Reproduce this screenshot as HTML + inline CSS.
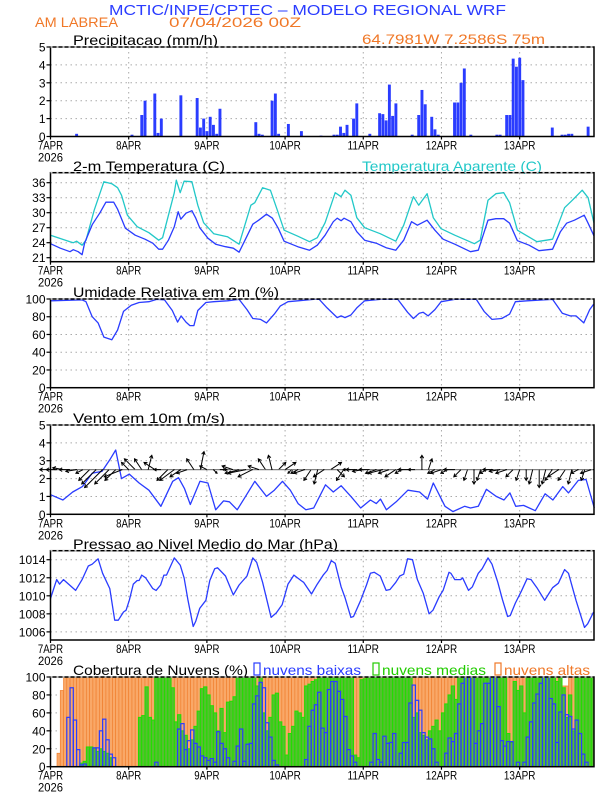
<!DOCTYPE html>
<html><head><meta charset="utf-8"><style>
html,body{margin:0;padding:0;background:#fff;}
svg{display:block;font-family:"Liberation Sans",sans-serif;}
</style></head><body>
<svg id="chart" width="612" height="792" viewBox="0 0 612 792" xmlns="http://www.w3.org/2000/svg">
<defs><clipPath id="cloudclip"><rect x="50.5" y="670" width="543.5" height="97"/></clipPath></defs>
<text x="109" y="15" fill="#2a3cff" font-size="15" textLength="397" lengthAdjust="spacingAndGlyphs">MCTIC/INPE/CPTEC – MODELO REGIONAL WRF</text>
<text x="35" y="27" fill="#f07828" font-size="14" textLength="83" lengthAdjust="spacingAndGlyphs">AM LABREA</text>
<text x="169" y="27" fill="#f07828" font-size="14" textLength="132" lengthAdjust="spacingAndGlyphs">07/04/2026 00Z</text>
<text x="362" y="44" fill="#f07828" font-size="14" textLength="183" lengthAdjust="spacingAndGlyphs">64.7981W 7.2586S 75m</text>
<text x="73" y="45" fill="#000" font-size="14" textLength="145" lengthAdjust="spacingAndGlyphs">Precipitacao (mm/h)</text>
<text x="73" y="171" fill="#000" font-size="14" textLength="152" lengthAdjust="spacingAndGlyphs">2-m Temperatura (C)</text>
<text x="362" y="171" fill="#22c8c8" font-size="14" textLength="180" lengthAdjust="spacingAndGlyphs">Temperatura Aparente (C)</text>
<text x="73" y="297" fill="#000" font-size="14" textLength="206" lengthAdjust="spacingAndGlyphs">Umidade Relativa em 2m (%)</text>
<text x="73" y="423" fill="#000" font-size="14" textLength="152" lengthAdjust="spacingAndGlyphs">Vento em 10m (m/s)</text>
<text x="73" y="549" fill="#000" font-size="14" textLength="265" lengthAdjust="spacingAndGlyphs">Pressao ao Nivel Medio do Mar (hPa)</text>
<text x="73" y="675" fill="#000" font-size="14" textLength="175" lengthAdjust="spacingAndGlyphs">Cobertura de Nuvens (%)</text>
<rect x="254" y="663" width="6" height="12" fill="none" stroke="#2a3cff" stroke-width="1.2"/>
<text x="263" y="675" fill="#2a3cff" font-size="14" textLength="98" lengthAdjust="spacingAndGlyphs">nuvens baixas</text>
<rect x="373" y="663" width="6" height="12" fill="none" stroke="#22cc00" stroke-width="1.2"/>
<text x="382" y="675" fill="#22cc00" font-size="14" textLength="104" lengthAdjust="spacingAndGlyphs">nuvens medias</text>
<rect x="495" y="663" width="6" height="12" fill="none" stroke="#f07828" stroke-width="1.2"/>
<text x="504" y="675" fill="#f07828" font-size="14" textLength="86" lengthAdjust="spacingAndGlyphs">nuvens altas</text>
</svg>
<script>
const dayLabels = ["7APR","8APR","9APR","10APR","11APR","12APR","13APR"];
const precipHours = [8,25,28,29,32,33,34,40,45,46,47,48,49,50,51,52,63,64,65,68,69,70,73,77,83,87,88,89,90,91,93,94,98,101,102,103,104,105,106,111,113,114,115,117,118,119,124,125,126,127,129,137,138,141,140,142,143,144,145,154,157,158,159,160,165];
const precipVals = [0.15,0.1,1.2,2.0,2.4,0.2,1.0,2.3,2.15,0.5,1.0,0.3,1.1,0.65,0.15,1.55,0.8,0.15,0.1,2.0,2.4,0.15,0.7,0.3,0.05,0.1,0.1,0.55,0.2,0.65,1.0,1.85,0.15,1.3,1.25,0.9,2.9,1.15,1.85,0.1,1.2,2.6,1.8,1.1,0.4,0.1,1.9,1.9,3.0,3.8,0.1,0.1,0.1,1.2,1.2,4.35,3.9,4.4,3.15,0.5,0.1,0.1,0.15,0.15,0.55];
const tempSeries = [[0,23.8],[3,22.9],[6,22.2],[7,22.6],[8.5,22.2],[9.7,21.6],[10.5,24.0],[12.8,27.6],[15.2,30.0],[17,32.1],[19.4,32.1],[20.6,30.7],[23,26.9],[26,25.5],[29,24.7],[31.4,23.9],[33.2,22.7],[34.4,22.7],[36.2,24.5],[38,27.2],[39.2,30.2],[40,28.7],[41.6,29.9],[43.4,30.4],[44.6,28.9],[45.8,27],[48.3,24.9],[50.7,23.7],[53.7,23.2],[56.1,22.9],[57.9,22.1],[59.7,24.5],[62.1,27.7],[63.9,28.5],[66.3,29.7],[68.1,28.9],[69.9,26.9],[71.7,24.3],[75.9,23.2],[79.5,22.5],[81.9,23.5],[84.3,25.5],[86.8,28.2],[88,28.9],[89.2,28.4],[90.1,28.9],[92.2,28.2],[94,26.2],[96.4,24.5],[100,23.9],[103,23.0],[106,22.5],[108.4,24.5],[110.8,28.2],[112.6,27.5],[115.6,28.5],[118,26.5],[120.5,24.7],[124.1,23.7],[128.9,22.2],[131.3,22.5],[134.3,28.5],[136.7,28.8],[139.1,28.8],[140.9,27.9],[143.3,24.4],[146.9,23.5],[149.9,22.4],[154.1,22.7],[156.5,26.2],[158.4,27.9],[160.8,28.5],[163.8,29.5],[165,27.9],[166.8,25.4]];
const apparentSeries = [[0,25.5],[6,24.2],[7,24.0],[8,24.3],[9.7,23.5],[10.9,24.5],[13.4,30.5],[16.4,36.2],[18.8,35.8],[20.6,35],[21.8,33.5],[23.6,29.5],[26.6,27.2],[30.2,26],[33.2,24.5],[34.4,25],[38,34],[38.6,36.5],[39.8,34],[41,36.3],[43.4,36.2],[45.2,31.5],[47,28],[50.1,25.8],[54.3,25.2],[57.9,23.7],[61.5,31.5],[62.7,32],[65.1,35],[67.5,34.5],[69.9,30],[71.7,26.5],[75.9,25.3],[79.5,24.2],[81.9,25],[84.3,28],[87.4,34],[89.2,33.2],[90.4,34.5],[92.2,33.5],[94,29],[96.4,27],[101.2,25.8],[106,24.3],[108.4,27.5],[111.4,33.2],[113,31.5],[115.6,33.8],[117.5,29],[119.9,26.8],[124.1,25.5],[130.1,23.8],[131.9,24.5],[134.3,32.5],[136.7,33.8],[139.1,34],[140.9,32],[143.3,26.5],[149.3,24.2],[154.1,24.7],[157.8,31],[160.2,32.5],[163.2,34.5],[165,33],[166.8,28]];
const humiditySeries = [[0,98],[9.7,99],[10.9,97],[12.8,80],[14.6,73],[16.4,57],[18.8,54],[20.6,65],[22.4,86],[24.8,93],[27.2,96],[30.2,97],[32.6,99.5],[35,99],[37.4,87],[39,74],[40.1,81],[41.6,74],[42.8,70],[44,70],[45.2,87],[47.7,96],[50.1,97],[54.3,98],[57.9,99.5],[60.3,88],[62.1,78],[64.5,77],[66.3,73],[68.7,83],[70.5,92],[72.9,97],[75.9,98],[80.7,99.5],[82.5,99.5],[84.9,90],[88,79],[89.2,81],[90.4,79],[92.2,82],[94,90],[96.4,98],[101.2,99.5],[106.6,99.5],[109.6,85],[111.4,78],[113.2,84],[114.4,85],[115.9,81],[118,88],[119.9,97],[124.1,99.5],[130.7,99.5],[133.1,86],[135.5,77],[138.5,78],[140.9,83],[142.7,97],[146.3,98],[154.1,99.5],[157.1,84],[159.5,81],[161.3,81],[163.7,73],[165.5,88],[166.7,94]];
const windSpeedSeries = [[0,1.1],[3.8,0.8],[6.8,1.25],[9.8,1.55],[12.8,2.3],[15.8,2.4],[18.2,3.05],[20,3.6],[21.8,2.0],[24.2,2.25],[27.2,1.75],[30.2,1.35],[33.9,0.45],[37.5,1.85],[39.3,2.05],[41.1,1.45],[42.9,0.55],[45.9,1.85],[48.3,1.75],[50.7,0.25],[53.1,0.75],[54.9,0.7],[57.3,0.25],[59.7,0.95],[62.7,1.85],[66.3,1.0],[68.7,1.35],[71.2,1.85],[73.6,1.35],[76,0.6],[78.4,0.25],[80.8,0.35],[84.4,1.65],[86.8,1.25],[89.2,1.6],[92.2,1.0],[95.2,0.35],[98.2,0.8],[100,0.6],[101.3,0.85],[103.1,0.25],[106.1,0.7],[109.7,1.35],[113.3,1.25],[115.7,0.85],[117.5,1.75],[121.1,0.45],[123.5,0.15],[127.1,0.45],[128.9,0.35],[131.3,0.45],[133.8,1.4],[136.8,1.0],[139.2,0.8],[141,1.2],[142.8,0.45],[145.2,0.5],[148.8,0.2],[151.8,1.15],[154.2,0.8],[157.2,1.55],[159,1.2],[162,1.9],[164.4,1.95],[166.9,0.35]];
const windU = [-3,-3,-3,-3,-3,-2, -3,-4,-5,-4,-3,-5, -2,-3,-2,1,-3,-2, -3,-4,-3,-3,-2,1, -2,1,2,-1,-3,-4, -5,-4,-3,-2,-1,2, 3,-1,-2,-3,-2,-1, -3,3,2,-2,-2,-3, -3,-3,-3,-4,-3,-3, -2,-3,-2,0,1,-2, -3,-2,-3,-2,-1,0, -1,-2,-3,-3,-3,-2, -1,0,-1,0,-1,-2, -3,-2,-1,-2,-1,-3];
const windV = [0,0,0.5,0,-0.5,-1, -3,-4,-5,-4,-3,-2, 2,3,3,4,2,0, -3,-3,-2,-1,3,5, 1,-1,0,0,1,-1, -1,-2,1,3,4,2, 2,-1,-1,-1,-3,-4, -2,2,-2,-3,0,0, -0.5,0,-1,-1,-1,-2, -1,0,0,4,3,-1, -1,-1,0,-2,-3,-4, -3,-1,0,-0.5,-1,-2, -3,-3,-4,-5,-4,-3, -2,-3,-4,-1,-3,-1];
const pressureSeries = [[0,1009.7],[1.9,1011.8],[2.8,1011.3],[4,1011.8],[7.7,1010.6],[9.7,1011.8],[11.6,1013.3],[12.8,1013.5],[14.6,1014.1],[16,1012.5],[18.2,1010.8],[19.7,1007.3],[20.8,1007.3],[22.4,1008.2],[23.2,1008.4],[24.2,1009.5],[25.4,1011.3],[26.6,1011.7],[27.2,1011.7],[28,1012.3],[29.2,1012.0],[31.4,1010.8],[32.4,1010.6],[33.8,1011.2],[34.8,1012.3],[35.6,1012.3],[38,1014.2],[39.8,1013.4],[41,1012],[42.2,1009.5],[43.8,1006.6],[44.6,1007.2],[45.8,1008.6],[47.7,1009.5],[48.9,1011.7],[50.4,1013.0],[51.3,1013.1],[53.7,1012.2],[56.1,1010.1],[57.9,1011.2],[60.3,1012.2],[62.1,1014.2],[63.3,1013.7],[65.1,1011.5],[67.7,1007.6],[69.3,1008.1],[71.1,1009.0],[72.9,1011.3],[74.7,1012.3],[76.9,1011.7],[77.7,1011.5],[80.1,1010.2],[81.9,1011.3],[83.7,1012.3],[84.9,1012.8],[86.2,1013.9],[87.4,1013.6],[89.2,1011],[90.4,1009.8],[92.2,1007.6],[93,1007.7],[95.2,1009.5],[97,1011.2],[98.2,1012.5],[99.4,1012.6],[101.2,1012.2],[103,1010.6],[104.2,1010.7],[106,1011.5],[107.2,1012.2],[108.4,1012.4],[109.6,1014.1],[111.1,1014],[112.6,1011.8],[114.4,1010.3],[116.2,1008],[117.4,1008.4],[119.3,1009.9],[120.5,1010.6],[122.3,1012.6],[122.9,1012.5],[124.1,1011.8],[125.9,1011.8],[126.5,1012],[128.3,1010.6],[129.5,1011],[131.3,1012.5],[132.5,1013],[134.3,1014.2],[135.5,1013.5],[137.3,1011.5],[138.7,1009.6],[140.3,1007.7],[141.1,1007.8],[142.7,1009.2],[144.5,1010.5],[146.3,1011.9],[147.5,1011.8],[149.3,1010.9],[151.7,1009.5],[152.9,1010.2],[154.1,1010.9],[155.9,1011.4],[157.8,1012.9],[159,1012.5],[161.3,1009.5],[163.9,1006.5],[164.9,1006.9],[166.7,1008.2]];
const cloudLow = [0,0,0,0,0,55,88,52,19,2,3,0,0,21,21,40,53,30,14,10,0,0,0,0,0,0,0,0,0,0,0,0,5,0,0,0,0,0,0,42,48,19,29,41,26,22,12,10,7,9,5,39,26,20,10,0,6,23,42,6,25,26,70,79,94,88,49,33,7,2,0,0,0,0,0,0,0,0,8,45,63,69,83,43,38,86,95,95,84,75,56,19,12,5,0,0,0,0,5,37,8,5,34,26,27,37,0,15,27,27,71,91,74,63,38,33,31,20,5,0,0,15,32,28,37,70,93,100,100,100,26,40,48,93,93,100,100,67,29,23,28,28,0,5,0,5,33,50,71,81,93,100,100,76,70,27,61,80,58,56,42,52,37,14,5];
const cloudMid = [0,0,0,0,0,0,0,0,0,4,6,22,22,21,17,20,17,15,10,0,0,0,0,0,0,0,0,55,57,89,55,52,100,100,100,100,100,88,50,58,40,35,20,30,45,62,87,89,80,68,60,40,65,38,72,73,78,100,100,100,100,100,100,90,100,60,40,55,80,82,50,45,13,37,45,62,60,55,90,92,95,97,100,100,100,100,100,100,100,100,100,100,100,13,10,97,98,100,100,99,100,100,98,100,100,100,99,100,100,100,100,55,60,38,35,30,40,45,52,40,60,70,80,90,75,100,100,100,100,100,100,100,100,100,100,100,100,100,100,100,37,27,95,85,90,60,100,100,100,100,100,100,100,100,100,95,100,88,55,80,40,100,100,100,100,100,100];
const cloudHigh = [0,0,15,85,100,100,100,100,100,100,100,100,100,100,100,100,100,100,100,100,100,100,100,100,100,100,100,100,100,100,100,100,100,100,100,100,100,100,100,100,100,100,100,100,100,100,100,100,100,100,100,100,100,100,100,100,100,100,100,100,100,100,100,100,100,100,100,100,100,100,100,100,100,100,100,100,100,100,100,100,100,100,100,100,100,100,100,100,100,100,100,100,100,100,100,100,100,100,100,100,100,100,100,100,100,100,100,100,100,100,100,100,100,100,100,100,100,100,100,100,100,100,100,100,100,100,100,100,100,100,100,100,100,100,100,100,100,100,100,100,100,100,100,100,100,100,100,100,100,100,100,100,100,100,100,100,100,90,90,100,100,100,82,80,81,83,100];

const NS = "http://www.w3.org/2000/svg";
const svg = document.getElementById("chart");
const X0 = 50.5, HW = 3.258, XR = 594;
function xh(h){ return X0 + h*HW; }
function mk(tag, attrs, parent){ const e=document.createElementNS(NS,tag); for(const k in attrs) e.setAttribute(k,attrs[k]); (parent||svg).appendChild(e); return e; }

const panels = [
 {name:"precip", top:47, bottom:136.5, vmin:0, vmax:5, ticks:[0,1,2,3,4,5]},
 {name:"temp", top:172.7, bottom:261.7, vmin:20.2, vmax:38, ticks:[21,24,27,30,33,36]},
 {name:"humidity", top:299, bottom:387.7, vmin:0, vmax:100, ticks:[0,20,40,60,80,100]},
 {name:"wind", top:425, bottom:514.3, vmin:0, vmax:5, ticks:[0,1,2,3,4,5]},
 {name:"pressure", top:550.7, bottom:640, vmin:1005.1, vmax:1015, ticks:[1006,1008,1010,1012,1014]},
 {name:"cloud", top:677, bottom:766.7, vmin:0, vmax:100, ticks:[0,20,40,60,80,100]}
];
function yf(p){ return v => p.bottom - (v - p.vmin)/(p.vmax - p.vmin)*(p.bottom - p.top); }

function frame(p){
  const y = yf(p);
  const g = mk("g",{});
  
  
  p.ticks.forEach(t=>{
    const ln = mk("line",{x1:X0,x2:XR,y1:y(t),y2:y(t),stroke:"#aaa","stroke-width":1,"stroke-dasharray":"1.5,3.5"},g);
    
    
  });
  for(let d=1; d<7; d++){
    const ln = mk("line",{x1:xh(d*24),x2:xh(d*24),y1:p.top,y2:p.bottom,stroke:"#aaa","stroke-width":1,"stroke-dasharray":"1.5,3.5"},g);
    
    
  }
}
function axes(p){
  const y = yf(p);
  const b = mk("rect",{x:X0,y:p.top,width:XR-X0,height:p.bottom-p.top,fill:"none",stroke:"#000","stroke-width":1.5});
  
  
  const d1 = mk("line",{x1:X0,x2:XR,y1:p.top,y2:p.top,stroke:"#fff","stroke-width":1,"stroke-dasharray":"2,4"});
  
  
  p.ticks.forEach(t=>{
    const tk = mk("line",{x1:X0-4,x2:X0,y1:y(t),y2:y(t),stroke:"#000","stroke-width":1.2});
    
    
    const tx = mk("text",{x:X0-5,y:y(t)+4.5,"text-anchor":"end","font-size":12,fill:"#000"});
    tx.textContent = t;
    
    
  });
  dayLabels.forEach((lab,i)=>{
    const x = xh(i*24);
    const tk = mk("line",{x1:x,x2:x,y1:p.bottom,y2:p.bottom+3,stroke:"#000","stroke-width":1.2});
    
    
    const tx = mk("text",{x:x,y:p.bottom+13,"text-anchor":"middle","font-size":12,fill:"#000",textLength:lab.length*6.3,lengthAdjust:"spacingAndGlyphs"});
    tx.textContent = lab;
    
    
  });
  const yr = mk("text",{x:X0,y:p.bottom+25,"text-anchor":"middle","font-size":12,fill:"#000",textLength:25,lengthAdjust:"spacingAndGlyphs"});
  yr.textContent = "2026";
  
  
}
function line(series, p, color, name){
  const y = yf(p);
  const d = series.map((s,i)=>(i?"L":"M")+xh(s[0]).toFixed(1)+","+y(s[1]).toFixed(1)).join("");
  const e = mk("path",{d:d,fill:"none",stroke:color,"stroke-width":1.3,"stroke-linejoin":"round"});
  
  
}

panels.forEach(frame);

{ const p=panels[0], y=yf(p);
  precipHours.forEach((h,i)=>{
    const v = precipVals[i];
    const r = mk("rect",{x:xh(h)-1.4,y:y(v),width:2.9,height:y(0)-y(v),fill:"#2a3cff"});
    
    
  });
}
line(apparentSeries, panels[1], "#22c8c8", "apparent-temp-line");
line(tempSeries, panels[1], "#2a3cff", "temp-line");
line(humiditySeries, panels[2], "#2a3cff", "humidity-line");
{ const p=panels[3], y=yf(p), base=y(2.5), k=3.6;
  line(windSpeedSeries, p, "#2a3cff", "wind-speed-line");
  const bl = mk("line",{x1:X0,x2:XR,y1:base,y2:base,stroke:"#000","stroke-width":1.2,"stroke-dasharray":"1,1"});
  
  
  windU.forEach((u,i)=>{
    const v = windV[i];
    const x0 = xh(i*2), x1 = x0 + u*k, y1 = base - v*k;
    const ang = Math.atan2(y1-base, x1-x0), L = Math.hypot(x1-x0,y1-base);
    const hs = Math.min(3.5, L*0.4);
    const a1 = ang+2.6, a2 = ang-2.6;
    const d = `M${x0.toFixed(1)},${base.toFixed(1)}L${x1.toFixed(1)},${y1.toFixed(1)}M${(x1+hs*Math.cos(a1)).toFixed(1)},${(y1+hs*Math.sin(a1)).toFixed(1)}L${x1.toFixed(1)},${y1.toFixed(1)}L${(x1+hs*Math.cos(a2)).toFixed(1)},${(y1+hs*Math.sin(a2)).toFixed(1)}`;
    const e = mk("path",{d:d,fill:"none",stroke:"#000","stroke-width":1});
    
    
  });
}
line(pressureSeries, panels[4], "#2a3cff", "pressure-line");
{ const p=panels[5], y=yf(p), w=HW;
  const cg = mk("g",{"clip-path":"url(#cloudclip)"});
  
  
  cloudHigh.forEach((v,h)=>{ if(v<=0) return;
    const r = mk("rect",{x:xh(h),y:y(v),width:w,height:y(0)-y(v),fill:"#f9a868",stroke:"#f08030","stroke-width":0.7},cg);
    
    
  });
  cloudMid.forEach((v,h)=>{ if(v<=0) return;
    const r = mk("rect",{x:xh(h),y:y(v),width:w,height:y(0)-y(v),fill:"#55c030",stroke:"#22dd00","stroke-width":1},cg);
    
    
  });
  cloudLow.forEach((v,h)=>{
    const r = mk("rect",{x:xh(h),y:y(v),width:w,height:Math.max(0,y(0)-y(v)),fill:"none",stroke:"#2a3cff","stroke-width":1.2},cg);
    
    
  });
}
panels.forEach(axes);
</script>
</body></html>
